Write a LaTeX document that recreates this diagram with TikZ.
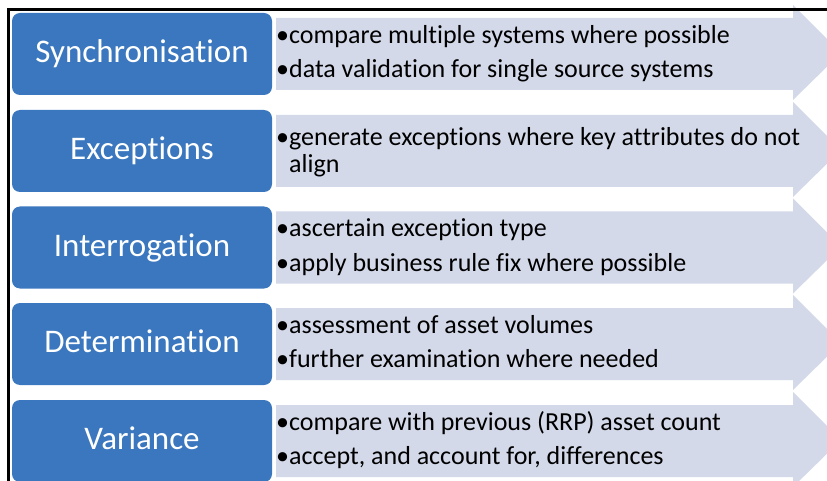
\documentclass[tikz,border=0pt]{standalone}
\usepackage{fontspec}
\setmainfont{Carlito}[Ligatures=NoCommon]

\definecolor{stageblue}{RGB}{58,119,190}
\definecolor{arrowgrey}{RGB}{211,217,233}

\tikzset{
	stage/.style={fill=stageblue, rounded corners=8pt},
	stagename/.style={text=white, anchor=base, inner sep=0pt, font=\fontsize{33}{38}\selectfont},
	point/.style={anchor=base west, inner sep=0pt, font=\fontsize{26}{28}\selectfont},
}

% wide arrow behind the bullets of one row, #1 = top of the row
\newcommand{\rowarrow}[1]{%
	\fill[arrowgrey] (276,#1+5) -- (793,#1+5) -- (793,#1-8) -- (841,#1+40)
		-- (793,#1+87) -- (793,#1+77) -- (276,#1+77) -- cycle;}

\begin{document}
\begin{tikzpicture}[x=1pt,y=-1pt]
	\useasboundingbox (0,0) rectangle (827,481);
	\clip (0,0) rectangle (827,481);

	\rowarrow{13}
	\rowarrow{110}
	\rowarrow{206.5}
	\rowarrow{303}
	\rowarrow{400}

	\fill[stage] (12,13) rectangle (272,95);
	\fill[stage] (12,110) rectangle (272,192);
	\fill[stage] (12,206.5) rectangle (272,288.5);
	\fill[stage] (12,303) rectangle (272,385);
	\fill[stage] (12,400) rectangle (272,482);

	\node[stagename] (sync) at (142,62.8) {Synchronisation};
	\node[stagename] (exc) at (142,159.8) {Exceptions};
	\node[stagename] (inter) at (142,256.3) {Interrogation};
	\node[stagename] (det) at (142,352.8) {Determination};
	\node[stagename] (var) at (142,449.8) {Variance};

	\node[point] (sync1) at (276,43.3) {•compare multiple systems where possible};
	\node[point] (sync2) at (276,77.7) {•data validation for single source systems};
	\node[point] (exc1) at (276,145.3) {•generate exceptions where key attributes do not};
	\node[point] (exc2) at (276,172.7) {\phantom{•}align};
	\node[point] (inter1) at (276,236.8) {•ascertain exception type};
	\node[point] (inter2) at (276,271.2) {•apply business rule fix where possible};
	\node[point] (det1) at (276,333.3) {•assessment of asset volumes};
	\node[point] (det2) at (276,367.7) {•further examination where needed};
	\node[point] (var1) at (276,430.3) {•compare with previous (RRP) asset count};
	\node[point] (var2) at (276,464.7) {•accept, and account for, differences};

	% frame
	\draw[line width=2.5pt] (8.7,482) -- (8.7,9.7) -- (828,9.7);
\end{tikzpicture}
\end{document}
